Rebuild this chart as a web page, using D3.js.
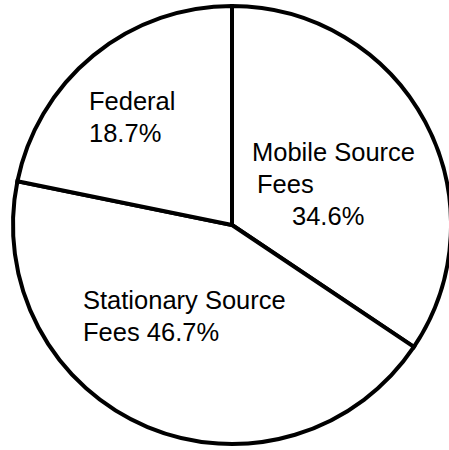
<!DOCTYPE html>
<html>
<head>
<meta charset="utf-8">
<script src="https://cdn.jsdelivr.net/npm/d3@7"></script>
<style>
  html, body { margin: 0; padding: 0; background: #fff; overflow: hidden; }
  svg { display: block; }
  text { font-family: "Liberation Sans", Arial, sans-serif; fill: #000; }
</style>
</head>
<body>
<svg id="chart" width="449" height="450"></svg>
<script>
// Categories (clockwise from 12 o'clock)
const categories = ["Mobile Source Fees", "Stationary Source Fees", "Federal"];
// Percentages printed in the labels
const labelPercents = ["34.6%", "46.7%", "18.7%"];
const sliceShares = [34.4, 43.8, 21.8];
// Label text, broken into lines as in the reference
const labelLines = [
  ["Mobile Source", "Fees", "34.6%"],
  ["Stationary Source", "Fees 46.7%"],
  ["Federal", "18.7%"]
];

const width = 449, height = 450;
const cx = 232, cy = 225, radius = 219;

const svg = d3.select("#chart");
const g = svg.append("g").attr("transform", `translate(${cx},${cy})`);

const pie = d3.pie().sort(null).value(d => d);
const arc = d3.arc().innerRadius(0).outerRadius(radius);

g.selectAll("path.slice")
  .data(pie(sliceShares))
  .join("path")
  .attr("class", "slice")
  .attr("d", arc)
  .attr("fill", "#fff")
  .attr("stroke", "#000")
  .attr("stroke-width", 4)
  .attr("stroke-linejoin", "miter");

// Label layout (absolute page positions of each line's left baseline)
const labelLayout = [
  { lines: [[252, 161], [257, 193], [292, 225]] },
  { lines: [[83, 309], [83, 341]] },
  { lines: [[89, 110], [89, 142]] }
];

const fontSize = 25.5;
labelLines.forEach((lines, i) => {
  lines.forEach((txt, j) => {
    const [x, y] = labelLayout[i].lines[j];
    svg.append("text")
      .attr("x", x)
      .attr("y", y)
      .attr("font-size", fontSize)
      .text(txt);
  });
});
</script>
</body>
</html>
